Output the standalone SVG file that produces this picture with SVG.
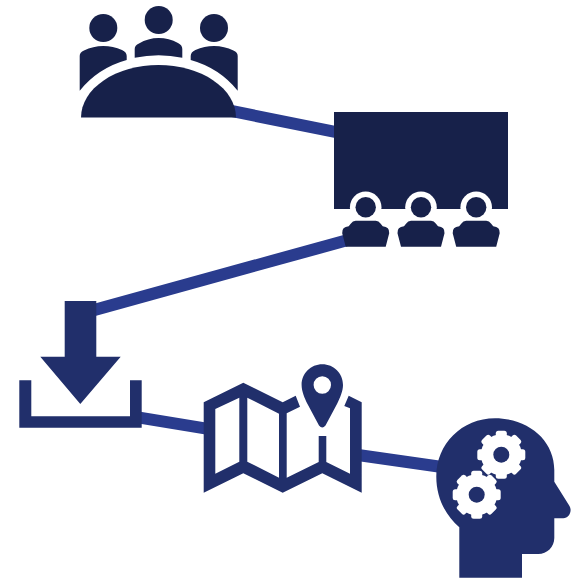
<svg xmlns="http://www.w3.org/2000/svg" xmlns:xlink="http://www.w3.org/1999/xlink" width="572" height="580" viewBox="0 0 572 580">
  <style>
    .link { stroke: #2a3c8e; stroke-width: 12; fill: none; }
    .dark { fill: #17214a; }
    .navy { fill: #212f6b; }
    .white { fill: #ffffff; }
  </style>
  <defs>
    <g id="viewer">
      <circle class="white" cx="0" cy="0" r="15.8"/>
      <circle class="dark" cx="0" cy="0" r="10.2"/>
      <path class="dark" d="M-10,13.5 H10 Q13,13.5 15,16.5 L17,19 Q24,19.5 23.5,26 L20,39.4 H-20 L-23.5,26 Q-24,19.5 -17,19 L-15,16.5 Q-13,13.5 -10,13.5 Z"/>
    </g>
    <g id="gear">
      <circle class="white" r="20.5"/>
      <g class="white">
        <rect x="-5.5" y="-24" width="11" height="48" rx="2.5"/>
        <rect x="-5.5" y="-24" width="11" height="48" rx="2.5" transform="rotate(45)"/>
        <rect x="-5.5" y="-24" width="11" height="48" rx="2.5" transform="rotate(90)"/>
        <rect x="-5.5" y="-24" width="11" height="48" rx="2.5" transform="rotate(135)"/>
      </g>
      <circle class="navy" r="8"/>
    </g>
  </defs>

  <g id="connectors">
    <line class="link" x1="230" y1="110.7" x2="340" y2="132.9"/>
    <line class="link" x1="346" y1="240.5" x2="92" y2="310.6"/>
    <line class="link" x1="138" y1="417.3" x2="208" y2="428.8"/>
    <line class="link" x1="358" y1="455" x2="442" y2="467"/>
  </g>

  <g id="meeting">
    <circle class="dark" cx="103.3" cy="28" r="14"/>
    <circle class="dark" cx="158.7" cy="20" r="14"/>
    <circle class="dark" cx="214" cy="28" r="14"/>
    <path class="dark" d="M79.7,90.7 V56 Q79.7,52 84,50.5 Q93,46 103.3,46 Q113,46 122,50 Q126.7,52 126.7,56 V60 Q98,68 79.7,90.7 Z"/>
    <path class="dark" d="M134.7,57.8 V49 Q134.7,45 139,43.5 Q148,38 158.7,38 Q169,38 178,43 Q182.3,45 182.3,49 V57.8 Q158.7,52.5 134.7,57.8 Z"/>
    <path class="dark" d="M237.7,90.7 V56 Q237.7,52 233.4,50.5 Q224.4,46 214,46 Q204.4,46 195.4,50 Q190.7,52 190.7,56 V60 Q219.4,68 237.7,90.7 Z"/>
    <path class="dark" d="M81,117.5 A77.5,52.5 0 0 1 236,117.5 Z"/>
  </g>

  <g id="theater">
    <rect class="dark" x="334" y="112" width="174" height="97"/>
    <use xlink:href="#viewer" href="#viewer" x="365.7" y="207.3"/>
    <use xlink:href="#viewer" href="#viewer" x="421" y="207.3"/>
    <use xlink:href="#viewer" href="#viewer" x="476.2" y="207.3"/>
  </g>

  <g id="download">
    <polygon class="navy" points="64.7,301 96.3,301 96.3,356.7 120.7,356.7 80.3,404 40.3,356.7 64.7,356.7"/>
    <polygon class="navy" points="19.3,380.3 31.3,380.3 31.3,416.3 130,416.3 130,380.3 141.7,380.3 141.7,427.7 19.3,427.7"/>
  </g>

  <g id="map">
    <path class="navy" fill-rule="evenodd" d="M203.7,402.3 L243.3,382.7 L282.7,402.3 L295.7,395.7 L300,406.7 L286.7,413.3 V477.7 L318.7,462 V436 H326.3 V462 L350,473.7 V408.3 L344.3,406 L348.7,395.7 L361.7,402.3 V492.7 L322.3,473.3 L282.7,492.7 L243.3,473.3 L203.7,492.7 Z M215.3,409 V473.7 L239.3,461.7 V397.7 Z M247.3,397.7 V461.7 L279,477.7 V413.7 Z"/>
    <path class="navy" fill-rule="evenodd" d="M322.3,364.3 C333.8,364.3 343,373.5 343,385 C343,391 340,398 337,404 L325.5,425.5 Q322.3,429.5 319,425.5 L307.5,404 C304.5,398 301.6,391 301.6,385 C301.6,373.5 310.8,364.3 322.3,364.3 Z M322.3,376.3 A8.7,8.7 0 1 0 322.3,393.7 A8.7,8.7 0 1 0 322.3,376.3 Z"/>
  </g>

  <g id="head">
    <path class="navy" d="M459.3,577.7 V527.3 C445,515 436.3,497 436.3,476.7 C436.3,444 462,418.3 495,418.3 C528,418.3 554.3,440 554.3,470 V481.7 L569.5,506 C572.5,511 569,518.3 563.3,518.3 H554.3 V538 C554.3,547 547,554 538.3,554 H522 V577.7 Z"/>
    <use xlink:href="#gear" href="#gear" x="501.3" y="454.7"/>
    <use xlink:href="#gear" href="#gear" x="476.7" y="494.7"/>
  </g>
</svg>
